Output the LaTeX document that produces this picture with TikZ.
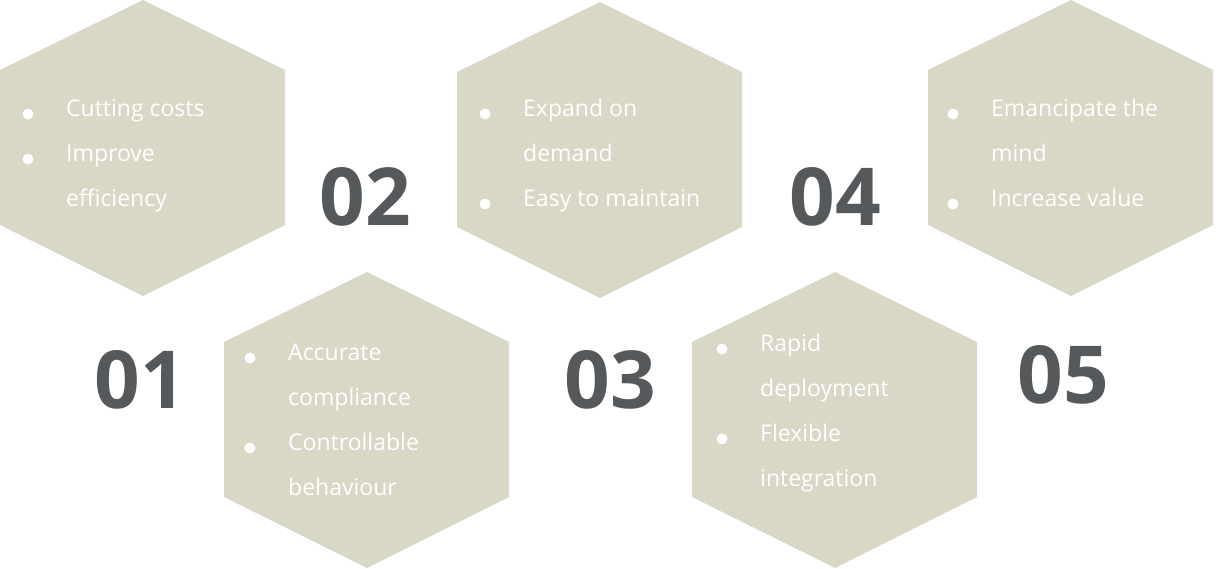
\documentclass[tikz,border=0pt]{standalone}
\usepackage{fontspec}
\setmainfont{Open Sans}
\definecolor{hexfill}{HTML}{D9D7C5}
\definecolor{numgray}{HTML}{56595C}
\tikzset{
  hexcell/.style={fill=hexfill,draw=none},
  bignum/.style={text=numgray,font=\bfseries\fontsize{80}{80}\selectfont},
  itemtext/.style={text=white,anchor=mid west,inner sep=0pt,font=\fontsize{23}{23}\selectfont},
  dot/.style={circle,fill=white,inner sep=0pt,minimum size=11pt},
}
% one bullet item: x, y, first line, second line
\newcommand{\hexitem}[4]{%
  \node[dot] at (#1,#2) {};
  \node[itemtext] at (#1+38,#2) {#3};
  \node[itemtext] at (#1+38,#2+45) {#4};
}
\begin{document}
\begin{tikzpicture}[x=1pt,y=-1pt]
\useasboundingbox (0,0) rectangle (1224,568);
%% cells
\foreach \cx/\cy in {143/0,367/272,600/2,835/272,1071/0}
  \fill[hexcell] (\cx,\cy) -- ++(142,70) -- ++(0,155) -- ++(-142,71)
    -- ++(-143,-71) -- ++(0,-155) -- cycle;
%% numbers
\node[bignum] (num_1) at (140,380) {01};
\node[bignum] (num_2) at (365,197) {02};
\node[bignum] (num_3) at (610,380) {03};
\node[bignum] (num_4) at (835,197) {04};
\node[bignum] (num_5) at (1063,375) {05};
%% items
\hexitem{28}{114}{Cutting costs}{}
\hexitem{28}{159}{Improve}{efficiency}
\hexitem{485}{114}{Expand on}{demand}
\hexitem{485}{204}{Easy to maintain}{}
\hexitem{953}{114}{Emancipate the}{mind}
\hexitem{953}{204}{Increase value}{}
\hexitem{250}{358}{Accurate}{compliance}
\hexitem{250}{448}{Controllable}{behaviour}
\hexitem{722}{349}{Rapid}{deployment}
\hexitem{722}{439}{Flexible}{integration}
%
\end{tikzpicture}
\end{document}
